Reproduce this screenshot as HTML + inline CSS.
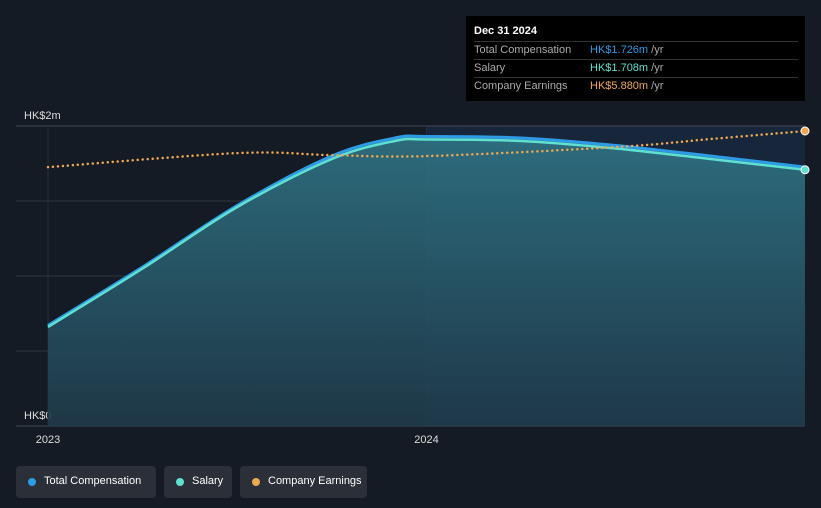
<!DOCTYPE html>
<html><head><meta charset="utf-8"><style>
body{margin:0;width:821px;height:508px;background:#151b24;font-family:"Liberation Sans",sans-serif;overflow:hidden;position:relative}
.tt{position:absolute;left:466px;top:16px;width:339px;height:85px;background:#000;color:#fff;font-size:11px}
.tt .h{position:absolute;left:8px;top:9px;font-weight:bold}
.row{position:absolute;left:8px;width:324px;border-top:1px solid #333;height:18px;line-height:17px;color:#aaa}
.row span{position:absolute;left:116px}
.lg{position:absolute;top:466px;height:32px;background:#2a2f38;border-radius:4px;color:#fff;font-size:11px;line-height:31px;box-sizing:border-box;padding-left:28px}
.lg i{position:absolute;left:12px;top:12px;width:8px;height:8px;border-radius:50%}
</style></head><body>
<svg id="c" width="821" height="508" style="position:absolute;left:0;top:0">
<defs><linearGradient id="g" x1="0" y1="0" x2="0" y2="1"><stop offset="0" stop-color="#2f7485"/><stop offset="1" stop-color="#1f3a4a"/></linearGradient></defs>
<rect x="427" y="126" width="378" height="300" fill="#17263a"/>
<g id="grid"></g><g id="marks"></g>
</svg>
<div class="tt">
<div class="h">Dec 31 2024</div>
<div class="row" style="top:25px">Total Compensation<span style="color:#2e9be6">HK$1.726m <span style="position:static;color:#aaa">/yr</span></span></div>
<div class="row" style="top:43px">Salary<span style="color:#5fe0d0">HK$1.708m <span style="position:static;color:#aaa">/yr</span></span></div>
<div class="row" style="top:61px">Company Earnings<span style="color:#f0a850">HK$5.880m <span style="position:static;color:#aaa">/yr</span></span></div>
</div>
<div class="lg" style="left:16px;width:140px"><i style="background:#2e9be6"></i>Total Compensation</div>
<div class="lg" style="left:164px;width:68px"><i style="background:#5fe0d0"></i>Salary</div>
<div class="lg" style="left:240px;width:127px"><i style="background:#f0a850"></i>Company Earnings</div>
<script>
const months=[0,3,6,9,11,12,15,18,21,24];
const totalComp=[0.67,1.06,1.47,1.80,1.92,1.93,1.92,1.87,1.80,1.726];
const salary=[0.66,1.05,1.46,1.78,1.90,1.91,1.90,1.85,1.78,1.708];
const earnMonths=[0,6,9,12,18,21,24];
const earnings=[5.16,5.44,5.40,5.38,5.56,5.72,5.88];
const yTicks=[0,0.5,1,1.5,2];
const xTickLabels=["2023","2024"];
const xTickMonths=[0,12];
const x=t=>48+t*(757/24);
const y=v=>426-v*150;
const ye=v=>426-v*50.17;
const NS="http://www.w3.org/2000/svg";
function mk(tag,attrs,parent){const e=document.createElementNS(NS,tag);for(const k in attrs)e.setAttribute(k,attrs[k]);parent.appendChild(e);return e;}
function path(pts){let d="M"+pts[0][0]+","+pts[0][1];for(let i=0;i<pts.length-1;i++){const p0=pts[Math.max(0,i-1)],p1=pts[i],p2=pts[i+1],p3=pts[Math.min(pts.length-1,i+2)];d+=" C"+(p1[0]+(p2[0]-p0[0])/6)+","+(p1[1]+(p2[1]-p0[1])/6)+" "+(p2[0]-(p3[0]-p1[0])/6)+","+(p2[1]-(p3[1]-p1[1])/6)+" "+p2[0]+","+p2[1];}return d;}
const grid=document.getElementById('grid'),marks=document.getElementById('marks');
yTicks.forEach(v=>{const l=mk('line',{x1:16,x2:805,y1:y(v),y2:y(v),stroke:v==0||v==2?'#444a55':'#2c3440','stroke-width':1},grid);

});
[[2,'HK$2m'],[0,'HK$0']].forEach(([v,s])=>{const t=mk('text',{x:24,y:y(v)-7,fill:'#ddd','font-size':11},grid);t.textContent=s;

});
xTickMonths.forEach((m,i)=>{const l=mk('line',{x1:x(m),x2:x(m),y1:126,y2:426,stroke:'#25303c'},grid);


const t=mk('text',{x:x(m),y:443,fill:'#ddd','font-size':11,'text-anchor':'middle'},grid);t.textContent=xTickLabels[i];

});
const tp=months.map((m,i)=>[x(m),y(totalComp[i])]);
const sp=months.map((m,i)=>[x(m),y(salary[i])]);
const ep=earnMonths.map((m,i)=>[x(m),ye(earnings[i])]);
const area=mk('path',{d:path(tp)+" L"+x(24)+",426 L"+x(0)+",426 Z",fill:'url(#g)',opacity:0.9},marks);


const tl=mk('path',{d:path(tp),fill:'none',stroke:'#2e9be6','stroke-width':3},marks);


const sl=mk('path',{d:path(sp),fill:'none',stroke:'#5fe0d0','stroke-width':2.5},marks);


const el=mk('path',{d:path(ep),fill:'none',stroke:'#f0a850','stroke-width':2.5,'stroke-dasharray':'0 5','stroke-linecap':'round'},marks);


const d1=mk('circle',{cx:x(24),cy:y(salary[9]),r:4,fill:'#5fe0d0',stroke:'#fff','stroke-width':1},marks);


const d2=mk('circle',{cx:x(24),cy:ye(earnings[6]),r:4,fill:'#f0a850',stroke:'#fff','stroke-width':1},marks);


</script>
</body></html>
